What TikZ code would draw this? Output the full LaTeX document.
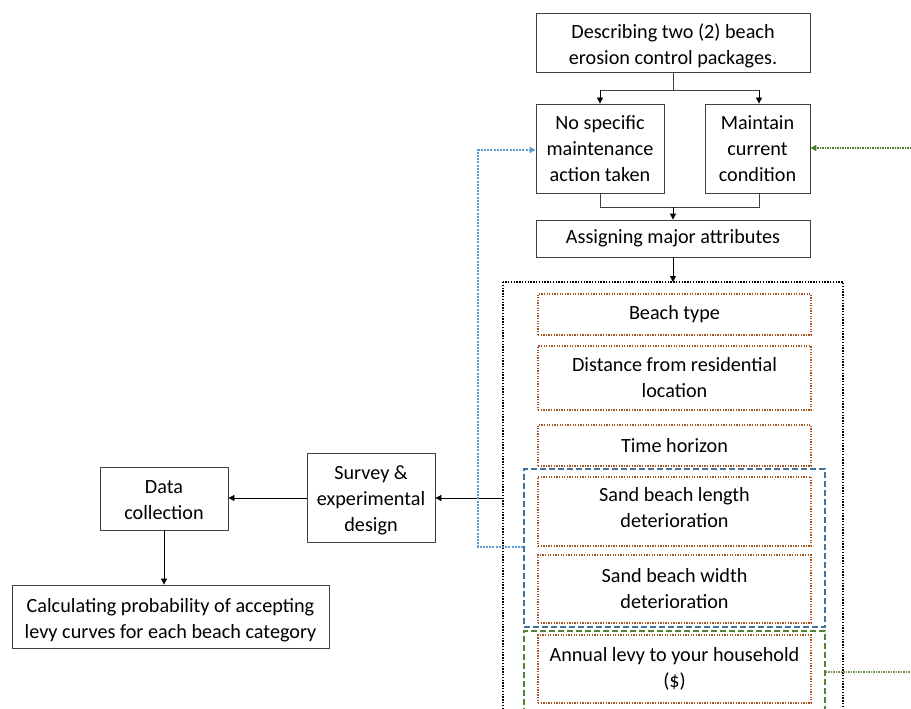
\documentclass[tikz,border=0pt]{standalone}
\usepackage{fontspec}
\setmainfont{Carlito}
\usetikzlibrary{arrows.meta}
\definecolor{boxline}{HTML}{404040}
\definecolor{brownd}{HTML}{A8541E}
\definecolor{blued}{HTML}{41719C}
\definecolor{greend}{HTML}{548235}
\definecolor{lblue}{HTML}{5B9BD5}
\definecolor{dgreen}{HTML}{4E7A2E}
\newcommand\dnshift[2]{\raisebox{-#1}[\height][\depth]{\begin{tabular}{@{}c@{}}#2\end{tabular}}}
\tikzset{
  box/.style={draw=boxline, line width=0.8pt, rectangle, inner sep=0pt, align=center, font=\fontsize{20.2}{26}\selectfont},
  attr/.style={draw=brownd, line width=1.3pt, dash pattern=on 1.3pt off 1.3pt, rectangle, inner sep=0pt, align=center, font=\fontsize{20.2}{26}\selectfont},
  arr/.style={-{Triangle[length=6pt,width=6pt]}, line width=0.8pt, black},
  ln/.style={line width=0.8pt, boxline},
}
\begin{document}
\begin{tikzpicture}[x=1pt,y=-1pt]
\useasboundingbox (0,0) rectangle (911,709);
\clip (0,0) rectangle (911,709);
% top boxes
\node[box, minimum width=274pt, minimum height=59pt] (desc) at (673,42.5) {\dnshift{4pt}{Describing two (2) beach\\erosion control packages.}};
\node[box, minimum width=128pt, minimum height=89pt] (nospec) at (600,148.5) {No specific\\maintenance\\action taken};
\node[box, minimum width=105pt, minimum height=89pt] (maint) at (757.5,148.5) {Maintain\\current\\condition};
\node[box, minimum width=274pt, minimum height=37pt] (assign) at (673,238.5) {Assigning major attributes};
% big dotted container
\draw[black, line width=1.5pt, dash pattern=on 1.4pt off 1.4pt] (503,282) rectangle (843,760);
\coordinate (bigtop) at (673,282);
\coordinate (bigleft) at (503,498);
% attributes
\node[attr, minimum width=273pt, minimum height=41pt] (btype) at (674.5,314.5) {Beach type};
\node[attr, minimum width=273pt, minimum height=64pt] (dist) at (674.5,378) {Distance from residential\\location};
\node[attr, minimum width=273pt, minimum height=41pt] (time) at (674.5,445.5) {Time horizon};
\node[attr, minimum width=273pt, minimum height=69pt] (slen) at (674.5,511.5) {\dnshift{-2pt}{Sand beach length\\deterioration}};
\node[attr, minimum width=273pt, minimum height=68pt] (swid) at (674.5,589) {Sand beach width\\deterioration};
\node[attr, minimum width=273pt, minimum height=68pt] (levy) at (674.5,669) {Annual levy to your household\\(\$)};
% blue and green dashed groups
\node[draw=blued, line width=1.8pt, dash pattern=on 6pt off 3pt, minimum width=301pt, minimum height=158pt, inner sep=0pt] (bluegrp) at (674.5,548) {};
\node[draw=greend, line width=1.8pt, dash pattern=on 6pt off 3pt, minimum width=301pt, minimum height=140pt, inner sep=0pt] (greengrp) at (674.5,701) {};
% left boxes
\node[box, minimum width=128pt, minimum height=89pt] (survey) at (371,497.5) {\dnshift{3pt}{Survey \&\\experimental\\design}};
\node[box, minimum width=128pt, minimum height=63pt] (data) at (164,498.5) {\dnshift{3pt}{Data\\collection}};
\node[box, minimum width=317pt, minimum height=63pt] (calc) at (170.5,616.5) {\dnshift{4pt}{Calculating probability of accepting\\levy curves for each beach category}};
% connectors
\draw[ln] (desc.south) -- (673,90);
\draw[ln] (600,90) -- (759,90);
\draw[arr] (600,90) -- (nospec.north);
\draw[arr] (759,90) -- (maint.north -| 759,0);
\draw[ln] (nospec.south) -- (600,207) -- (759,207) -- (maint.south -| 759,0);
\draw[arr] (673,207) -- (assign.north);
\draw[arr] (assign.south) -- (bigtop);
\draw[arr] (bigleft) -- (survey.east |- bigleft);
\draw[arr] (survey.west |- bigleft) -- (data.east |- bigleft);
\draw[arr] (data.south) -- (calc.north -| data.south);
% blue dotted feedback
\draw[lblue, line width=2pt, dash pattern=on 2pt off 1.2pt, -{Triangle[length=6pt,width=6pt]}] (bluegrp.west |- 0,547) -- (478,547) -- (478,150) -- (nospec.west |- 0,150);
% green dotted lines
\coordinate (gin) at (911,148);
\coordinate (gout) at (911,672);
\draw[dgreen, line width=1.3pt, dash pattern=on 1.3pt off 1.2pt, -{Triangle[length=6pt,width=6pt]}] (gin) -- (maint.east |- gin);
\draw[dgreen!80, line width=1.3pt, dash pattern=on 1.3pt off 1.2pt] (greengrp.east |- gout) -- (gout);
\end{tikzpicture}
\end{document}
